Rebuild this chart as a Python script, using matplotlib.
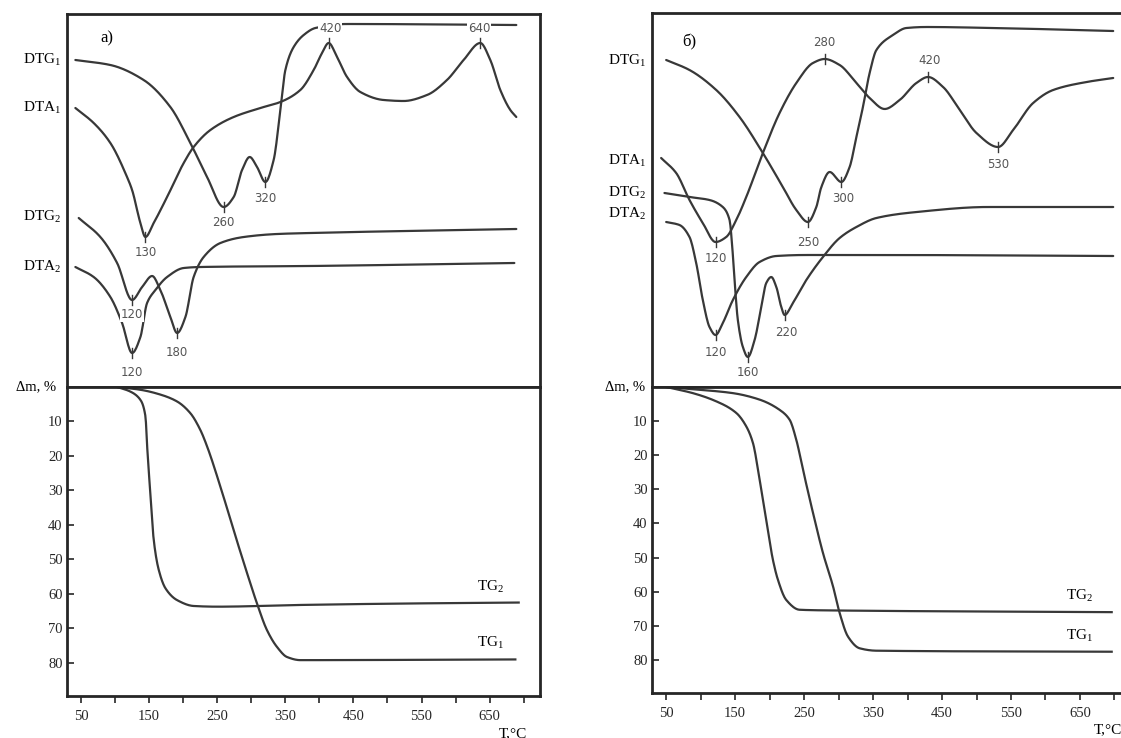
import numpy as np
import matplotlib.pyplot as plt

plt.rcParams['font.family'] = ['Liberation Serif', 'DejaVu Serif']
plt.rcParams['mathtext.fontset'] = 'custom'
plt.rcParams['mathtext.rm'] = 'Liberation Serif'
plt.rcParams['mathtext.it'] = 'Liberation Serif:italic'

# ---------------- panel a) ----------------
a_dtg1_t = [41.6, 93.0, 141.9, 181.1, 210.5, 235.0, 259.4, 274.1, 286.4, 297.6, 308.4, 320.6,
            332.8, 342.7, 350.0, 362.2, 376.9, 394.1, 440.6, 689.2]
a_dtg1_v = [327, 322, 307, 280, 244, 210, 180, 190, 217, 230, 220, 205,
            227, 277, 317, 340, 352, 359, 363, 362]

a_dta1_t = [41.6, 68.5, 93.0, 117.5, 124.9, 137.1, 144.4, 156.6, 176.3, 200.7, 215.3, 239.9,
            274.1, 313.3, 342.7, 372.0, 391.6, 403.9, 413.6, 425.9, 440.6, 460.1, 494.4,
            523.7, 558.1, 587.4, 611.8, 636.3, 651.0, 665.7, 680.4, 689.2]
a_dta1_v = [279, 264, 244, 210, 197, 164, 150, 164, 190, 224, 240, 257,
            270, 279, 285, 297, 317, 334, 344, 330, 310, 295, 287,
            286, 292, 307, 327, 344, 327, 297, 277, 270]

a_dtg2_t = [46.5, 78.3, 102.9, 124.9, 139.6, 154.3, 166.4, 181.1, 191.0, 203.2, 215.3, 230.0,
            254.6, 288.8, 337.8, 386.7, 689.2]
a_dtg2_v = [169, 150, 124, 87, 100, 111, 97, 70, 54, 70, 110, 130,
            144, 150, 153, 154, 158]

a_dta2_t = [41.6, 68.5, 93.0, 110.2, 124.9, 137.1, 146.9, 159.1, 176.3, 200.7, 225.2, 386.7, 686.3]
a_dta2_v = [120, 110, 90, 64, 34, 50, 84, 97, 110, 119, 120, 121, 124]

# peaks: temperature on curve, signal on curve, label, label position
a_peak_t = [144.4, 259.4, 320.6, 413.6, 636.3, 124.9, 191.0, 124.9]
a_peak_v = [150, 180, 205, 344, 344, 87, 54, 34]
a_peak_lbl = ['130', '260', '320', '420', '640', '120', '180', '120']
a_peak_lt = [144.4, 259.4, 320.6, 416, 635, 124.9, 191.0, 124.9]
a_peak_lv = [135, 164, 189, 358, 358, 72, 34, 15]

a_tg1_t = [102.9, 137, 166.5, 191, 210.5, 225, 235, 254.6, 274, 293.8, 308.4, 323, 337.8,
           352.5, 372, 687.8]
a_tg1_m = [0, 0.8, 2.2, 4.2, 7.6, 12.4, 17.2, 28.9, 41.5, 54, 62.8, 70.5, 75.4,
           78.3, 79.2, 79]
a_tg2_t = [102.9, 122, 137, 144.5, 147, 152, 156.7, 164, 174, 191, 215.4, 250, 372, 519, 692.7]
a_tg2_m = [0, 1.3, 3.7, 8.5, 17.2, 31.8, 44.4, 53, 58.4, 61.8, 63.5, 63.7, 63.2, 62.8, 62.5]

# ---------------- panel б) ----------------
b_dtg1_t = [50, 83.8, 122.6, 156.4, 190.2, 219.2, 238.7, 255.5, 267.7, 275.0, 287.0, 304.0,
            316.0, 325.8, 335.3, 345.0, 354.8, 378.9, 398.3, 427.4, 524.0, 698.2]
b_dtg1_v = [327, 317, 297, 270, 234, 200, 177, 165, 180, 200, 215, 205,
            220, 250, 280, 314, 337, 352, 359, 360, 359, 356]

b_dta1_t = [42.7, 64.5, 83.8, 103.1, 121.6, 137.1, 151.6, 166.1, 190.2, 214.4, 238.7, 262.8,
            279.8, 301.5, 325.8, 345.0, 366.8, 388.6, 412.8, 429.7, 451.5, 475.7, 499.9,
            531.3, 553.1, 582.1, 611.1, 659.6, 698.2]
b_dta1_v = [229, 214, 187, 164, 145, 150, 167, 190, 234, 274, 304, 324,
            328, 322, 304, 289, 278, 287, 304, 310, 300, 277, 254,
            240, 257, 284, 297, 305, 309]

b_dtg2_t = [47.5, 83.8, 112.8, 132.1, 141.9, 145.8, 149.1, 153.9, 161.2, 168.4, 178.2, 187.9,
            195.1, 202.4, 209.7, 216.9, 221.7, 233.7, 253.2, 277.3, 301.5, 325.8, 354.8,
            413.3, 517.2, 698.2]
b_dtg2_v = [194, 190, 187, 180, 167, 140, 107, 67, 40, 30, 47, 80,
            104, 110, 100, 80, 72, 84, 107, 130, 149, 160, 169,
            175, 180, 180]

b_dta2_t = [50, 69.3, 83.8, 93.5, 103.1, 112.8, 121.6, 132.1, 146.7, 166.1, 185.4, 209.7,
            253.2, 359.6, 698.2]
b_dta2_v = [165, 162, 150, 124, 87, 60, 52, 64, 87, 110, 125, 131, 132, 132, 131]

b_peak_t = [121.6, 255.5, 304.0, 279.8, 429.7, 531.3, 168.4, 221.7, 121.6]
b_peak_v = [145, 165, 205, 328, 310, 240, 30, 72, 52]
b_peak_lbl = ['120', '250', '300', '280', '420', '530', '160', '220', '120']
b_peak_lt = [121.6, 255.5, 306.4, 279.8, 432, 531.3, 168.4, 224, 121.6]
b_peak_lv = [129, 145, 188, 344, 327, 222, 14, 54, 34]

b_tg1_t = [50, 98.4, 146.8, 185.5, 214.5, 229, 238.7, 248.4, 263, 277.4, 292, 301.6, 313.7,
           330.6, 354.8, 696]
b_tg1_m = [0, 0.8, 1.8, 3.7, 6.7, 9.6, 15.5, 24.3, 37, 48.7, 58.5, 66.3, 73.2,
           76.6, 77.3, 77.6]
b_tg2_t = [50, 88.7, 122.6, 151.6, 166, 175.8, 185.5, 195, 204.8, 212, 224, 243.5, 292, 696]
b_tg2_m = [0, 1.8, 4.2, 7.6, 11.5, 16.4, 27.2, 38.9, 50.7, 56.5, 62.4, 65.3, 65.5, 66]

x_ticks = list(range(50, 701, 50))
x_ticklabels = ['50', '', '150', '', '250', '', '350', '', '450', '', '550', '', '650', '']
y_ticks = [10, 20, 30, 40, 50, 60, 70, 80]

curve_col = '#383838'
frame_col = '#262626'
num_col = '#555555'

W, H = 1121, 738
fig = plt.figure(figsize=(W / 100, H / 100), dpi=100)


def smooth(t, v, n=600):
    # monotone cubic (pchip) through the read points, only for drawing
    t = np.asarray(t, float)
    v = np.asarray(v, float)
    h = np.diff(t)
    d = np.diff(v) / h
    m = np.zeros_like(v)
    m[0], m[-1] = d[0], d[-1]
    for k in range(1, len(v) - 1):
        if d[k - 1] * d[k] > 0:
            w1 = 2 * h[k] + h[k - 1]
            w2 = h[k] + 2 * h[k - 1]
            m[k] = (w1 + w2) / (w1 / d[k - 1] + w2 / d[k])
    tt = np.linspace(t[0], t[-1], n)
    idx = np.clip(np.searchsorted(t, tt) - 1, 0, len(t) - 2)
    s = (tt - t[idx]) / h[idx]
    h00 = 2 * s**3 - 3 * s**2 + 1
    h10 = s**3 - 2 * s**2 + s
    h01 = -2 * s**3 + 3 * s**2
    h11 = s**3 - s**2
    vv = h00 * v[idx] + h10 * h[idx] * m[idx] + h01 * v[idx + 1] + h11 * h[idx] * m[idx + 1]
    return tt, vv


def px_rect(x0, y0, x1, y1):
    return [x0 / W, 1 - y1 / H, (x1 - x0) / W, (y1 - y0) / H]


def panel(x0, x1, top, mid, bot, top_h, ymax_tg, curves, peaks, tgs, names, name_v,
          corner, corner_xy, name_x, dm_x, tg_lbl_xy, tc_xy):
    ax_t = fig.add_axes(px_rect(x0, top, x1, mid))
    ax_b = fig.add_axes(px_rect(x0, mid, x1, bot), sharex=ax_t)
    ax_t.set_xlim(29, 724)
    ax_t.set_ylim(0, top_h)
    ax_b.set_ylim(ymax_tg, 0)

    for t, v in curves:
        ax_t.plot(*smooth(t, v), color=curve_col, lw=1.6, solid_capstyle='round')
    pt, pv, lbl, lt, lv = peaks
    for i in range(len(pt)):
        ax_t.plot([pt[i], pt[i]], [pv[i] - 5, pv[i] + 5], color=curve_col, lw=1.0)
        ax_t.text(lt[i], lv[i], lbl[i], ha='center', va='center', fontsize=8.5,
                  family='DejaVu Sans', color=num_col,
                  bbox=dict(facecolor='white', edgecolor='none', pad=0.6))
    for t, m in tgs:
        ax_b.plot(*smooth(t, m), color=curve_col, lw=1.6)

    for nm, v in zip(names, name_v):
        ax_t.text(name_x, v, nm, ha='right', va='center', fontsize=11, clip_on=False)
    ax_t.text(corner_xy[0], corner_xy[1], corner, ha='center', va='center', fontsize=12)

    ax_t.set_xticks([])
    ax_t.set_yticks([])
    ax_t.tick_params(bottom=False, labelbottom=False)
    for s in list(ax_t.spines.values()) + list(ax_b.spines.values()):
        s.set_color(frame_col)
        s.set_linewidth(2)

    ax_b.set_xticks(x_ticks)
    ax_b.set_xticklabels(x_ticklabels)
    ax_b.set_yticks(y_ticks)
    ax_b.tick_params(axis='x', direction='out', length=5, width=1.2, pad=5,
                     labelsize=10.5, colors=frame_col)
    ax_b.tick_params(axis='y', direction='in', length=5, width=1.2, pad=3,
                     labelsize=10.5, colors=frame_col)

    ax_b.text(dm_x, 0, 'Δm, %', ha='right', va='center', fontsize=10.5, clip_on=False)
    ax_b.text(tg_lbl_xy[0][0], tg_lbl_xy[0][1], r'TG$_2$', ha='center', va='center', fontsize=11)
    ax_b.text(tg_lbl_xy[1][0], tg_lbl_xy[1][1], r'TG$_1$', ha='center', va='center', fontsize=11)
    ax_b.text(tc_xy[0], tc_xy[1], 'T,°C', ha='center', va='center', fontsize=11, clip_on=False)


names = [r'DTG$_1$', r'DTA$_1$', r'DTG$_2$', r'DTA$_2$']

panel(66.8, 540, 14, 387, 696, 373, 89.6,
      [(a_dtg1_t, a_dtg1_v), (a_dta1_t, a_dta1_v), (a_dtg2_t, a_dtg2_v), (a_dta2_t, a_dta2_v)],
      (a_peak_t, a_peak_v, a_peak_lbl, a_peak_lt, a_peak_lv),
      [(a_tg1_t, a_tg1_m), (a_tg2_t, a_tg2_m)],
      names, [327, 279, 170, 120], 'а)', (88, 349), 21, 14,
      [(651, 57.9), (651, 74.3)], (684, 100.5))

panel(651.7, 1131, 13, 387, 693, 374, 89.7,
      [(b_dtg1_t, b_dtg1_v), (b_dta1_t, b_dta1_v), (b_dtg2_t, b_dtg2_v), (b_dta2_t, b_dta2_v)],
      (b_peak_t, b_peak_v, b_peak_lbl, b_peak_lt, b_peak_lv),
      [(b_tg1_t, b_tg1_m), (b_tg2_t, b_tg2_m)],
      names, [326, 226, 194, 173], 'б)', (84, 345), 21.4, 19,
      [(650, 61.3), (650, 73)], (690, 100.5))

fig.savefig('out.png', dpi=100, facecolor='white')
